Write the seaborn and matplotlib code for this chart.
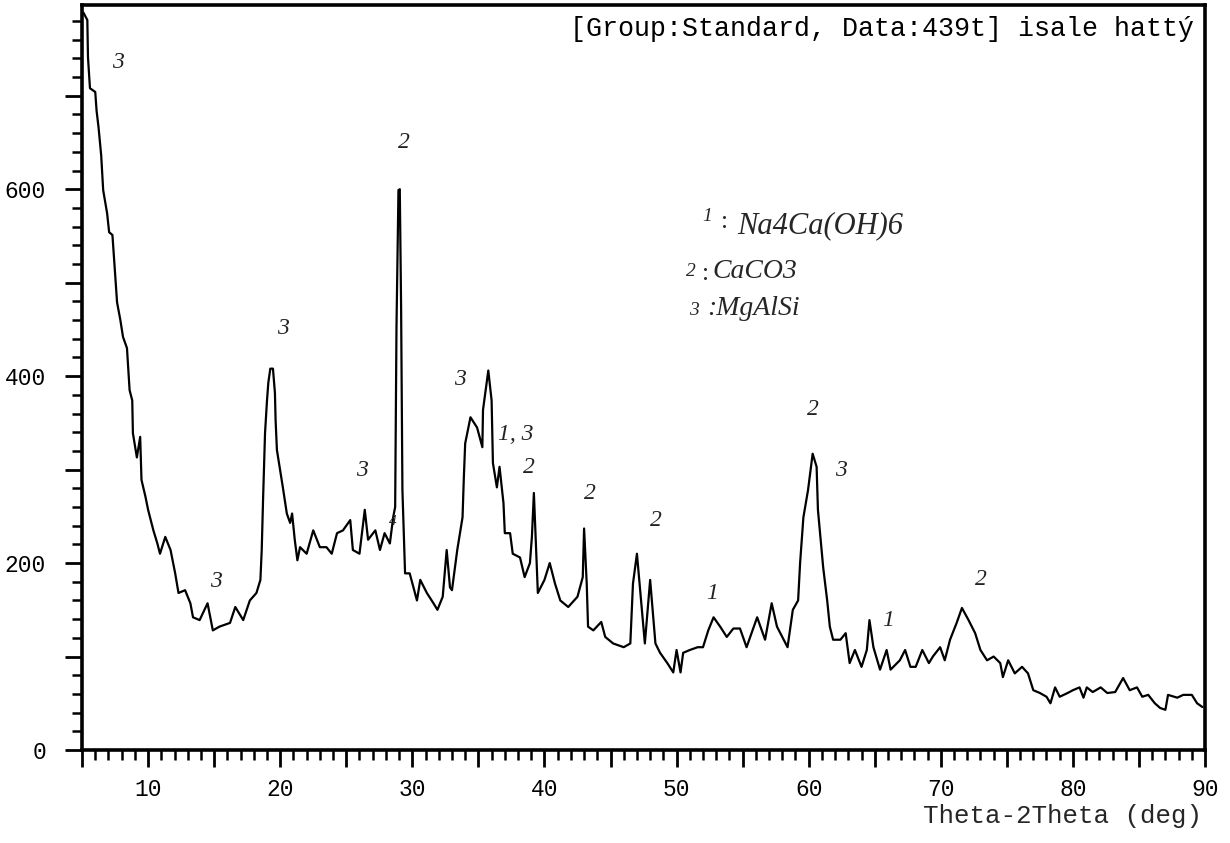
import numpy as np
import pandas as pd
import matplotlib
matplotlib.use("Agg")
import matplotlib.pyplot as plt
from matplotlib.ticker import MultipleLocator, FuncFormatter
import seaborn as sns

two_theta = [5.1, 5.4, 5.45, 5.6, 6.0, 6.1, 6.25, 6.45, 6.6, 6.9, 7.05, 7.3, 7.4, 7.5, 7.65, 7.9,
             8.1, 8.4, 8.6, 8.8, 8.85, 9.15, 9.4, 9.5, 9.8, 10.0, 10.4, 10.7, 10.9, 11.3, 11.7,
             12.05, 12.3, 12.8, 13.2, 13.4, 13.9, 14.5, 14.9, 15.4, 16.2, 16.6, 17.2, 17.7, 18.2,
             18.5, 18.6, 18.7, 18.85, 19.0, 19.1, 19.25, 19.45, 19.6, 19.65, 19.75, 20.0, 20.2,
             20.5, 20.75, 20.9, 21.1, 21.3, 21.5, 22.0, 22.5, 23.0, 23.5, 23.9, 24.3, 24.75, 25.3,
             25.5, 26.0, 26.4, 26.65, 27.2, 27.55, 27.9, 28.3, 28.55, 28.7, 28.8, 28.95, 29.05,
             29.15, 29.25, 29.45, 29.8, 30.35, 30.6, 31.1, 31.6, 31.9, 32.3, 32.6, 32.85, 33.0,
             33.4, 33.8, 33.9, 34.0, 34.4, 34.9, 35.3, 35.35, 35.75, 36.0, 36.1, 36.4, 36.6, 36.9,
             37.0, 37.4, 37.6, 38.15, 38.5, 38.9, 39.05, 39.2, 39.4, 39.5, 40.0, 40.4, 40.8, 41.2,
             41.8, 42.5, 42.9, 43.0, 43.2, 43.3, 43.7, 44.3, 44.6, 45.2, 46.0, 46.5, 46.7, 47.0,
             47.2, 47.6, 48.0, 48.4, 48.75, 49.3, 49.75, 50.0, 50.3, 50.5, 51.0, 51.6, 52.0, 52.4,
             52.8, 53.3, 53.8, 54.3, 54.8, 55.3, 56.1, 56.7, 57.2, 57.6, 58.4, 58.8, 59.2, 59.35,
             59.6, 59.95, 60.3, 60.6, 60.7, 61.1, 61.4, 61.6, 61.85, 62.4, 62.8, 63.1, 63.5, 64.0,
             64.4, 64.6, 64.9, 65.4, 65.9, 66.2, 66.9, 67.3, 67.7, 68.1, 68.6, 69.1, 69.4, 69.95,
             70.3, 70.7, 71.2, 71.6, 72.1, 72.6, 73.0, 73.5, 74.0, 74.5, 74.7, 75.1, 75.6, 76.15,
             76.6, 77.0, 77.5, 78.0, 78.3, 78.65, 79.0, 79.6, 80.0, 80.5, 80.8, 81.05, 81.5, 82.1,
             82.6, 83.2, 83.8, 84.3, 84.85, 85.25, 85.7, 86.2, 86.6, 87.0, 87.2, 87.9, 88.35, 89.0,
             89.4, 89.8]
intensity = [789, 781, 741, 708, 704, 684, 666, 636, 599, 574, 554, 551, 531, 510, 479, 460,
             442, 430, 385, 374, 339, 313, 335, 289, 271, 257, 235, 221, 210, 228, 214,
             189, 168, 171, 157, 142, 139, 157, 128, 132, 136, 153, 139, 160, 168,
             182, 214, 267, 339, 374, 393, 408, 408, 382, 353, 321, 299, 281,
             253, 243, 253, 225, 203, 217, 210, 235, 217, 217, 210, 232, 235, 246,
             214, 210, 257, 225, 235, 214, 232, 221, 249, 260, 452, 599, 600,
             474, 278, 189, 189, 160, 182, 168, 157, 150, 164, 214, 174, 171,
             214, 249, 292, 328, 356, 345, 324, 364, 406, 374, 307, 281, 303, 264,
             232, 232, 210, 206, 185, 200, 228, 275, 203, 168, 182, 200, 178, 160,
             153, 164, 185, 237, 178, 132, 128, 137, 121, 114, 110, 114, 178, 210,
             178, 114, 182, 114, 104, 93, 83, 107, 83, 104, 107, 110, 110, 128,
             142, 132, 121, 130, 130, 110, 142, 118, 157, 132, 110, 150, 160, 200,
             249, 278, 317, 303, 257, 195, 160, 132, 118, 118, 125, 93, 107, 89,
             107, 139, 110, 86, 107, 86, 96, 107, 89, 89, 107, 93, 100, 110,
             96, 118, 136, 152, 139, 125, 107, 96, 100, 93, 78, 96, 82, 89,
             82, 64, 61, 57, 50, 67, 57, 61, 64, 67, 56, 67, 62, 67,
             61, 62, 77, 64, 67, 57, 59, 50, 45, 43, 59, 56, 59, 59,
             50, 46]

peak_labels = ["3", "3", "3", "3", "4", "2", "3", "1, 3", "2", "2", "2", "1", "2", "3", "1", "2"]
peak_x = [7.7, 15.1, 20.2, 26.2, 28.5, 29.4, 33.6, 37.8, 38.8, 43.45, 48.4, 52.7, 60.3, 62.45, 66.0, 73.0]
peak_y = [736, 180, 451, 299, 244, 650, 396, 338, 302, 274, 246, 167, 364, 299, 139, 182]

legend_nums = ["1", "2", "3"]
legend_names = ["Na4Ca(OH)6", "CaCO3", "MgAlSi"]

title_text = "[Group:Standard, Data:439t] isale hattý"
x_label = "Theta-2Theta (deg)"

sns.set_theme(style="white")
plt.rcParams["font.family"] = ["Liberation Mono", "DejaVu Sans Mono"]

df = pd.DataFrame({"two_theta": two_theta, "intensity": intensity})

fig = plt.figure(figsize=(12.3, 8.43), dpi=100)
ax = fig.add_axes([0.0667, 0.1103, 0.9130, 0.8837])
sns.lineplot(data=df, x="two_theta", y="intensity", ax=ax, color="black",
             linewidth=1.6, estimator=None, sort=False)

ax.set_xlim(5, 90)
ax.set_ylim(0, 797)
ax.set_xlabel("")
ax.set_ylabel("")

for s in ax.spines.values():
    s.set_linewidth(2.6)
    s.set_color("black")

ax.xaxis.set_major_locator(MultipleLocator(5))
ax.xaxis.set_minor_locator(MultipleLocator(1))
ax.yaxis.set_major_locator(MultipleLocator(100))
ax.yaxis.set_minor_locator(MultipleLocator(20))
ax.xaxis.set_major_formatter(FuncFormatter(lambda v, p: f"{int(round(v))}" if round(v) % 10 == 0 and round(v) > 5 else ""))
ax.yaxis.set_major_formatter(FuncFormatter(lambda v, p: f"{int(round(v))}" if round(v) % 200 == 0 else ""))
ax.tick_params(axis="both", which="major", direction="out", length=12, width=2, color="black",
               labelsize=16.5, labelcolor="black", bottom=True, left=True)
ax.tick_params(axis="both", which="minor", direction="out", length=7, width=1.8, color="black",
               bottom=True, left=True)
ax.tick_params(axis="x", which="major", pad=8)
ax.tick_params(axis="y", which="major", pad=14)

for lab, xx, yy in zip(peak_labels, peak_x, peak_y):
    fs = 11 if lab == "4" else 17
    ax.text(xx, yy, lab, ha="center", va="center", fontsize=fs,
            family="Liberation Serif", style="italic", color="#222222")

serif = "Liberation Serif"
ax.text(52.3, 571, legend_nums[0], fontsize=14, family=serif, style="italic", ha="center", va="center")
ax.text(53.6, 565, ":", fontsize=18, family=serif, ha="center", va="center")
ax.text(54.6, 561, legend_names[0], fontsize=22, family=serif, style="italic", ha="left", va="center")
ax.text(51.1, 512, legend_nums[1], fontsize=14, family=serif, style="italic", ha="center", va="center")
ax.text(52.2, 509, ":", fontsize=18, family=serif, ha="center", va="center")
ax.text(52.7, 512, legend_names[1], fontsize=20, family=serif, style="italic", ha="left", va="center")
ax.text(51.3, 470, legend_nums[2], fontsize=14, family=serif, style="italic", ha="center", va="center")
ax.text(52.3, 472, ":" + legend_names[2], fontsize=20, family=serif, style="italic", ha="left", va="center")

ax.text(0.990, 0.985, title_text, transform=ax.transAxes, ha="right", va="top", fontsize=19.2,
        family="Liberation Mono", color="black")
fig.text(0.977, 0.018, x_label, ha="right", va="bottom", fontsize=18.6, family="Liberation Mono")

fig.savefig("out.png", dpi=100, facecolor="white")
